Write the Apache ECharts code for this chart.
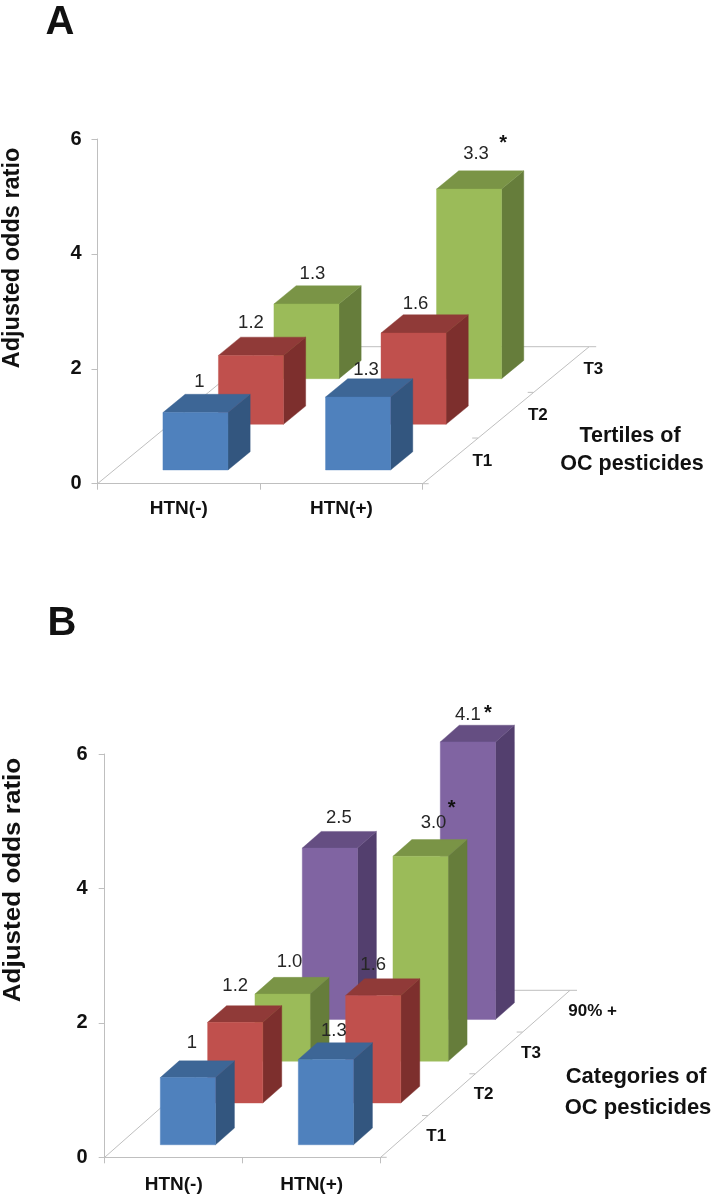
<!DOCTYPE html>
<html>
<head>
<meta charset="utf-8">
<style>html,body{margin:0;padding:0;background:#fff}#c{width:715px;height:1200px}</style>
<script src="https://cdn.jsdelivr.net/npm/echarts@6/dist/echarts.min.js"></script>
</head>
<body>
<div id="c"></div>
<script>
// ---- data ----
const groups = ['HTN(-)', 'HTN(+)'];
const depthA = ['T1', 'T2', 'T3'];
const depthB = ['T1', 'T2', 'T3', '90% +'];
const yTicksMax = 6;
// rows: one per depth category, bar heights for [HTN(-), HTN(+)]
const valuesA_T1 = [1, 1.27];
const valuesA_T2 = [1.2, 1.59];
const valuesA_T3 = [1.3, 3.3];
const textA_T1 = ['1', '1.3'];
const textA_T2 = ['1.2', '1.6'];
const textA_T3 = ['1.3', '3.3'];
const starsA_T3 = [false, true];

const valuesB_T1 = [1, 1.27];
const valuesB_T2 = [1.2, 1.6];
const valuesB_T3 = [1.0, 3.05];
const valuesB_P90 = [2.55, 4.13];
const textB_T1 = ['1', '1.3'];
const textB_T2 = ['1.2', '1.6'];
const textB_T3 = ['1.0', '3.0'];
const textB_P90 = ['2.5', '4.1'];
const starsB_T3 = [false, true];
const starsB_P90 = [false, true];

// ---- styles ----
const FONT = '"Liberation Sans", Arial, sans-serif';
const GREY = '#BFBFBF';
const SHADES = [
  { face: '#4F81BD', top: '#3D6696', side: '#33567F' },
  { face: '#C0504D', top: '#903A38', side: '#7D2F2D' },
  { face: '#9BBB59', top: '#7A9446', side: '#667D3B' },
  { face: '#8064A2', top: '#654E82', side: '#533F6E' }
];
const BAR_FRACTION = 0.4;

const panelA = {
  grid: { left: 97.5, top: 139, width: 325.2, height: 344.7 },
  depthVec: [166.5, -137],
  depth: depthA,
  rows: [valuesA_T1, valuesA_T2, valuesA_T3],
  texts: [textA_T1, textA_T2, textA_T3],
  stars: [[false, false], [false, false], starsA_T3],
  starShift: [[[0,0],[0,0]], [[0,0],[0,0]], [[0,0],[27,-11]]],
  nudge: [[[4,-31],[8,-27]], [[0,-32],[2,-29]], [[6,-30],[7,-35]]],
  xMargin: 16, yMargin: 16
};
const panelB = {
  grid: { left: 104.7, top: 754, width: 276, height: 403.3 },
  depthVec: [189.3, -167],
  depth: depthB,
  rows: [valuesB_T1, valuesB_T2, valuesB_T3, valuesB_P90],
  texts: [textB_T1, textB_T2, textB_T3, textB_P90],
  stars: [[false, false], [false, false], starsB_T3, starsB_P90],
  starShift: [[[0,0],[0,0]], [[0,0],[0,0]], [[0,0],[18,-15]], [[0,0],[20,-1]]],
  nudge: [[[4,-35],[8,-29]], [[0,-36],[0,-31]], [[7,-32],[13,-33]], [[9,-30],[0,-27]]],
  xMargin: 18, yMargin: 17
};
const panels = [panelA, panelB];

function poly(points, fill) {
  return { type: 'polygon', shape: { points }, style: { fill, stroke: fill, lineWidth: 0.4 } };
}
function line(x1, y1, x2, y2) {
  return { type: 'line', shape: { x1, y1, x2, y2 }, style: { stroke: GREY, lineWidth: 1, fill: null } };
}

function floorSeries(p, idx) {
  const n = p.depth.length;
  const data = p.depth.map((_, i) => [0, 0, i]);
  return {
    type: 'custom', xAxisIndex: idx, yAxisIndex: idx, z: 1, silent: true,
    data, encode: { x: 0, y: 1 },
    renderItem(params, api) {
      const i = api.value(2);
      const band = api.size([1, 0])[0];
      const o = api.coord([0, 0]);
      const ox = o[0] - band / 2, oy = o[1];
      const ex = ox + band * groups.length;
      const [dx, dy] = p.depthVec;
      const f0 = i / n, f1 = (i + 1) / n, fm = (i + 0.5) / n;
      const kids = [
        line(ex + dx * f0, oy + dy * f0, ex + dx * f1, oy + dy * f1),
        line(ox + dx * f0, oy + dy * f0, ox + dx * f1, oy + dy * f1),
        line(ex + dx * f1, oy + dy * f1, ex + dx * f1 + (i === n - 1 ? 7 : -6), oy + dy * f1),
        { type: 'text', style: {
            x: ex + dx * fm + 22, y: oy + dy * fm, text: p.depth[i], align: 'left', verticalAlign: 'middle',
            fill: '#111', font: 'bold 17px ' + FONT } }
      ];
      if (i === n - 1) kids.push(line(ox + dx, oy + dy, ex + dx, oy + dy));
      if (i === 0) kids.push(line(ex, oy, ex + 6, oy));
      return { type: 'group', children: kids };
    }
  };
}

function barGeometry(api, p, cat, d, v) {
  const n = p.depth.length;
  const band = api.size([1, 0])[0];
  const w = band * BAR_FRACTION;
  const base = api.coord([cat, 0]);
  const topPt = api.coord([cat, v]);
  const h = base[1] - topPt[1];
  const cellX = p.depthVec[0] / n, cellY = p.depthVec[1] / n;
  const t = d + (1 - BAR_FRACTION) / 2;
  const x0 = base[0] + cellX * t - w / 2;
  const y0 = base[1] + cellY * t;
  return { x0, x1: x0 + w, y0, yT: y0 - h, sx: cellX * BAR_FRACTION, sy: cellY * BAR_FRACTION, w };
}

function barSeries(p, idx) {
  const data = [];
  for (let d = p.depth.length - 1; d >= 0; d--) {
    groups.forEach((_, c) => data.push([c, p.rows[d][c], d]));
  }
  return {
    type: 'custom', xAxisIndex: idx, yAxisIndex: idx, z: 3,
    data, encode: { x: 0, y: 1 },
    renderItem(params, api) {
      const c = api.value(0), v = api.value(1), d = api.value(2);
      const g = barGeometry(api, p, c, d, v);
      const s = SHADES[d];
      return { type: 'group', children: [
        poly([[g.x1, g.y0], [g.x1 + g.sx, g.y0 + g.sy], [g.x1 + g.sx, g.yT + g.sy], [g.x1, g.yT]], s.side),
        poly([[g.x0, g.yT], [g.x1, g.yT], [g.x1 + g.sx, g.yT + g.sy], [g.x0 + g.sx, g.yT + g.sy]], s.top),
        poly([[g.x0, g.y0], [g.x1, g.y0], [g.x1, g.yT], [g.x0, g.yT]], s.face)
      ] };
    }
  };
}

function labelSeries(p, idx) {
  const data = [];
  p.depth.forEach((_, d) => groups.forEach((_, c) => data.push([c, p.rows[d][c], d])));
  return {
    type: 'custom', xAxisIndex: idx, yAxisIndex: idx, z: 5, silent: true,
    data, encode: { x: 0, y: 1 },
    renderItem(params, api) {
      const c = api.value(0), v = api.value(1), d = api.value(2);
      const g = barGeometry(api, p, c, d, v);
      const cx = g.x0 + g.w / 2 + p.nudge[d][c][0];
      const cy = g.yT + p.nudge[d][c][1];
      const kids = [{ type: 'text', style: {
        x: cx, y: cy, text: p.texts[d][c], align: 'center', verticalAlign: 'middle',
        fill: '#262626', font: '18.5px ' + FONT } }];
      if (p.stars[d][c]) {
        const sh = p.starShift[d][c];
        kids.push({ type: 'text', style: {
          x: cx + sh[0], y: cy + sh[1], text: '*', align: 'center', verticalAlign: 'middle',
          fill: '#111', font: 'bold 20px ' + FONT } });
      }
      return { type: 'group', children: kids };
    }
  };
}

function axisPair(p, idx) {
  const axisLine = { show: true, lineStyle: { color: GREY, width: 1 } };
  const axisTick = { show: true, length: 6, lineStyle: { color: GREY, width: 1 } };
  return {
    x: {
      type: 'category', gridIndex: idx, data: groups, boundaryGap: true,
      axisLine, axisTick: Object.assign({ alignWithLabel: false }, axisTick),
      axisLabel: { color: '#111', fontFamily: FONT, fontWeight: 'bold', fontSize: 19, margin: p.xMargin, interval: 0 },
      splitLine: { show: false }
    },
    y: {
      type: 'value', gridIndex: idx, min: 0, max: yTicksMax, interval: 2,
      axisLine, axisTick,
      axisLabel: { color: '#111', fontFamily: FONT, fontWeight: 'bold', fontSize: 20, margin: p.yMargin },
      splitLine: { show: false }
    }
  };
}

const axes = panels.map(axisPair);

function bigText(x, y, text, font, rotation, stretch) {
  return {
    type: 'text', x, y, rotation: rotation || 0, scaleX: stretch || 1, silent: true, z: 10,
    style: { text, font: font + ' ' + FONT, fill: '#111', align: 'center', verticalAlign: 'middle' }
  };
}

const option = {
  animation: false,
  backgroundColor: '#fff',
  grid: panels.map(p => Object.assign({ containLabel: false }, p.grid)),
  xAxis: axes.map(a => a.x),
  yAxis: axes.map(a => a.y),
  series: panels.flatMap((p, i) => [floorSeries(p, i), barSeries(p, i), labelSeries(p, i)]),
  graphic: [
    bigText(60, 23, 'A', 'bold 40px'),
    bigText(62, 624, 'B', 'bold 40px'),
    bigText(13, 258, 'Adjusted odds ratio', 'bold 23.5px', Math.PI / 2),
    bigText(13, 880, 'Adjusted odds ratio', 'bold 24px', Math.PI / 2, 1.085),
    bigText(630, 436, 'Tertiles of', 'bold 21.5px'),
    bigText(632, 464, 'OC pesticides', 'bold 21.5px'),
    bigText(636, 1077, 'Categories of', 'bold 22px'),
    bigText(638, 1108, 'OC pesticides', 'bold 22px')
  ]
};

const chart = echarts.init(document.getElementById('c'), null, { renderer: 'canvas', width: 715, height: 1200 });
chart.setOption(option);
</script>
</body>
</html>
